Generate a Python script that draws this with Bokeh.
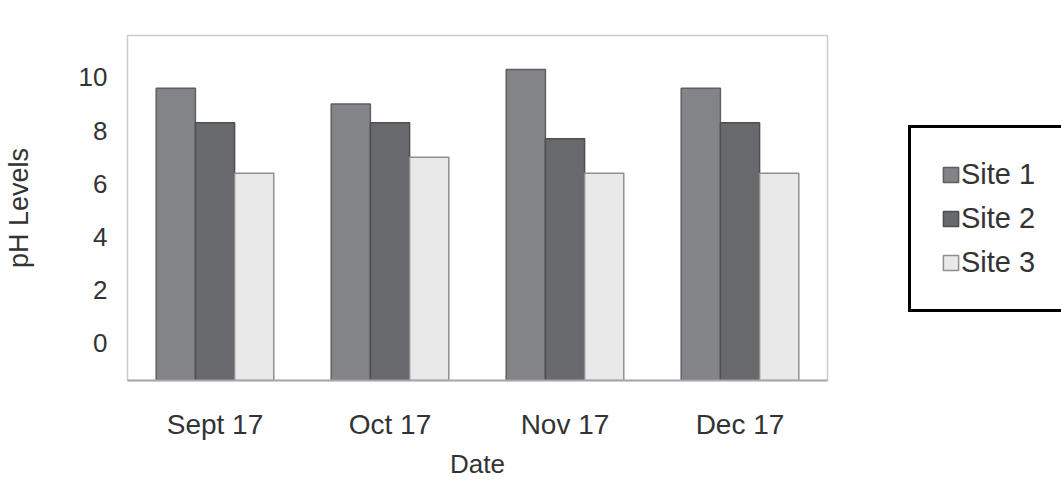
from bokeh.plotting import figure
from bokeh.models import FactorRange, Range1d, Legend, LegendItem, ColumnDataSource
from bokeh.transform import dodge
from bokeh.embed import file_html
from bokeh.resources import INLINE

dates = ["Sept 17", "Oct 17", "Nov 17", "Dec 17"]
site1 = [9.6, 9.0, 10.3, 9.6]
site2 = [8.3, 8.3, 7.7, 8.3]
site3 = [6.4, 7.0, 6.4, 6.4]
series_names = ["Site 1", "Site 2", "Site 3"]
y_ticks = [0, 2, 4, 6, 8, 10]

Y_MIN = -1.4
Y_MAX = 11.58

FONT = "Liberation Sans"
TEXT_COLOR = "#333333"

src = ColumnDataSource(dict(date=dates, s1=site1, s2=site2, s3=site3))

p = figure(x_range=FactorRange(*dates), y_range=Range1d(Y_MIN, Y_MAX),
           frame_width=700, frame_height=345,
           min_border_left=119, min_border_right=226, min_border_top=35, min_border_bottom=90,
           output_backend="svg", toolbar_location=None)

p.outline_line_color = "#cccccc"
p.outline_line_width = 1.5
p.xgrid.grid_line_color = None
p.ygrid.grid_line_color = None
p.background_fill_color = "white"
p.border_fill_color = "white"

bw = 0.224
fills = ["#838487", "#68696c", "#e9e9ea"]
lines = ["#5e5f62", "#4e4f52", "#8f8f90"]
renderers = []
for i, (col, fc, lc) in enumerate(zip(["s1", "s2", "s3"], fills, lines)):
    r = p.vbar(x=dodge("date", (i - 1) * bw, range=p.x_range), top=col, bottom=Y_MIN,
               width=bw, source=src, fill_color=fc, line_color=lc, line_width=1.5)
    renderers.append(r)

# axes
p.yaxis.ticker = y_ticks
p.yaxis.major_tick_line_color = None
p.yaxis.minor_tick_line_color = None
p.yaxis.axis_line_color = None
p.yaxis.major_label_standoff = 14
p.yaxis.major_label_text_font = FONT
p.yaxis.major_label_text_font_size = "26px"
p.yaxis.major_label_text_color = TEXT_COLOR
p.yaxis.axis_label = "pH Levels"
p.yaxis.axis_label_text_font = FONT
p.yaxis.axis_label_text_font_size = "27px"
p.yaxis.axis_label_text_font_style = "normal"
p.yaxis.axis_label_text_color = TEXT_COLOR
p.yaxis.axis_label_standoff = 42

p.xaxis.major_tick_line_color = None
p.xaxis.minor_tick_line_color = None
p.xaxis.axis_line_color = "#a8a8a8"
p.xaxis.axis_line_width = 2
p.xaxis.major_label_standoff = 22
p.xaxis.major_label_text_font = FONT
p.xaxis.major_label_text_font_size = "28px"
p.xaxis.major_label_text_color = TEXT_COLOR
p.xaxis.axis_label = "Date"
p.xaxis.axis_label_text_font = FONT
p.xaxis.axis_label_text_font_size = "26px"
p.xaxis.axis_label_text_font_style = "normal"
p.xaxis.axis_label_text_color = TEXT_COLOR
p.xaxis.axis_label_standoff = 6

legend = Legend(items=[LegendItem(label=n, renderers=[r]) for n, r in zip(series_names, renderers)],
                location=(81, 68), padding=30, margin=0, spacing=11,
                glyph_width=19, glyph_height=19, label_height=30, label_standoff=1,
                label_width=95,
                label_text_font=FONT, label_text_font_size="29px", label_text_color=TEXT_COLOR,
                border_line_color="black", border_line_width=3, border_line_alpha=1,
                background_fill_color="white", background_fill_alpha=1)
p.add_layout(legend, "right")

open("out.html", "w").write(file_html(p, INLINE))
